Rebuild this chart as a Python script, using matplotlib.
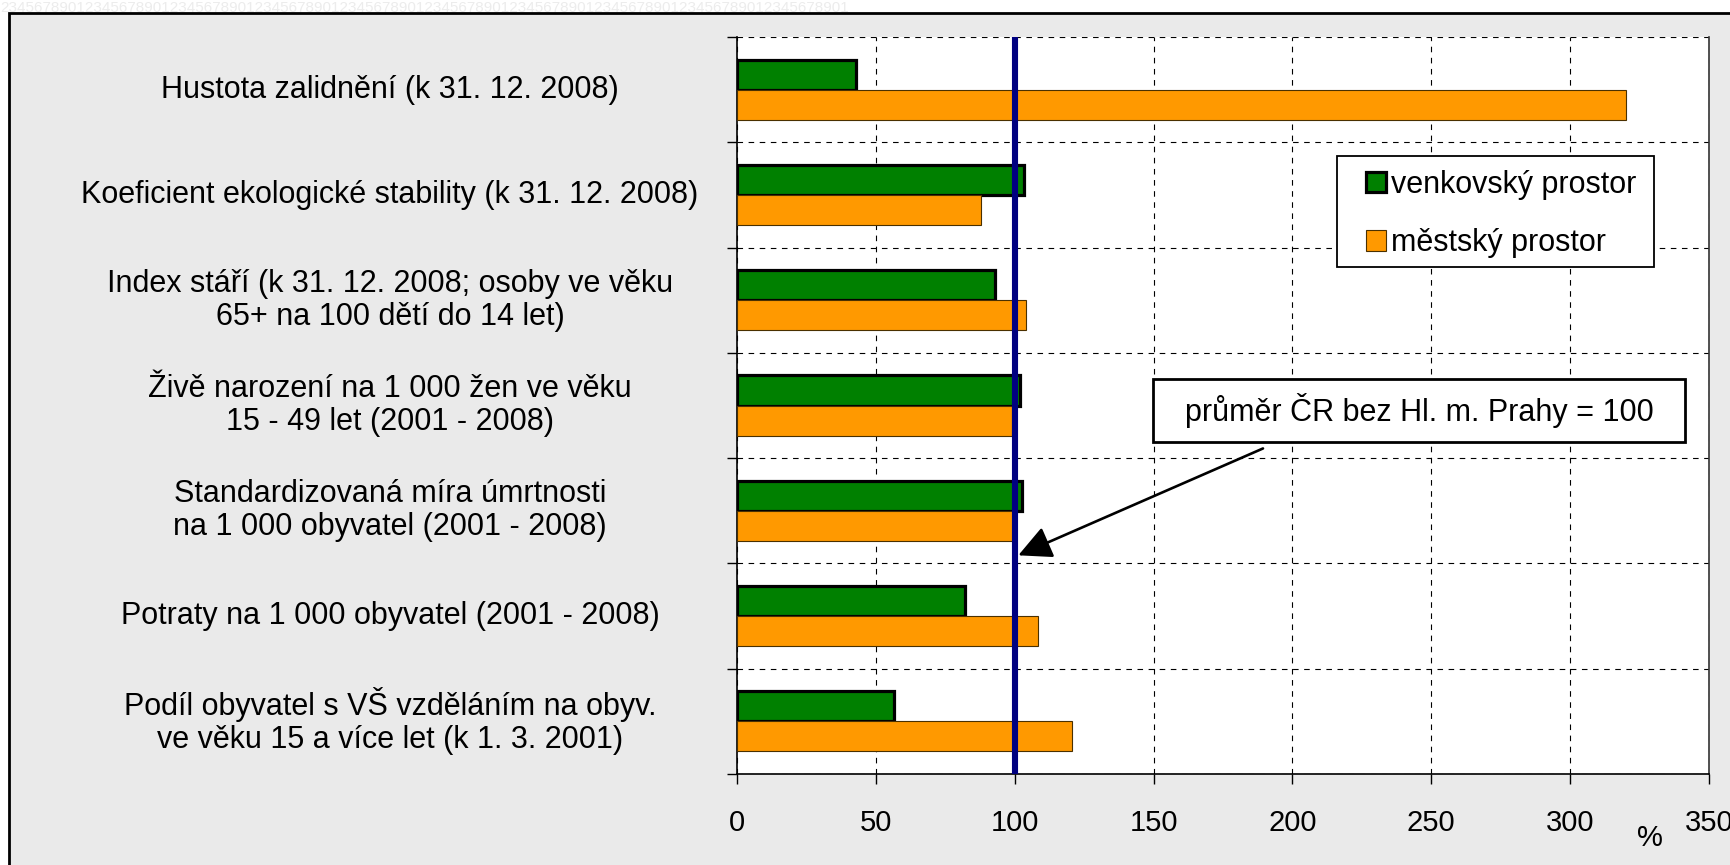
import matplotlib.pyplot as plt
import matplotlib.patches as mpatches
from matplotlib.transforms import blended_transform_factory
import numpy as np

plt.rcParams['font.family'] = ['Liberation Sans', 'DejaVu Sans']

categories = [
    "Hustota zalidnění (k 31. 12. 2008)",
    "Koeficient ekologické stability (k 31. 12. 2008)",
    "Index stáří (k 31. 12. 2008; osoby ve věku\n65+ na 100 dětí do 14 let)",
    "Živě narození na 1 000 žen ve věku\n15 - 49 let (2001 - 2008)",
    "Standardizovaná míra úmrtnosti\nna 1 000 obyvatel (2001 - 2008)",
    "Potraty na 1 000 obyvatel (2001 - 2008)",
    "Podíl obyvatel s VŠ vzděláním na obyv.\nve věku 15 a více let (k 1. 3. 2001)",
]
venkov = [43, 103.5, 93, 102, 102.5, 82, 56.5]
mesto = [320, 88, 104, 99, 99.5, 108.5, 120.5]
series_names = ["venkovský prostor", "městský prostor"]
xticks = [0, 50, 100, 150, 200, 250, 300, 350]
prumer = 100
note = "průměr ČR bez Hl. m. Prahy = 100"

W, H = 1730, 865
FS = 22
fig = plt.figure(figsize=(W / 100, H / 100), dpi=100, facecolor='white')

# faint ruler digits along the top edge + grey framed background
fig.text(0, 1 - 1 / H, "2345678901234567890123456789012345678901234567890123456789012345678901234567890123456789012345678901",
         fontsize=11, color='#ececec', va='top', ha='left')
bg = mpatches.Rectangle((9 / W, -0.05), 1.1, 1 - 13 / H + 0.05, transform=fig.transFigure,
                        facecolor='#eaeaea', edgecolor='black', linewidth=2, zorder=-10)
fig.add_artist(bg)

ax = fig.add_axes([737 / W, 1 - 774 / H, (1709 - 737) / W, (774 - 37) / H])
ax.set_facecolor('white')

y = np.arange(len(categories))
h = 0.285
ax.barh(y - h / 2, venkov, height=h, color='#008000', edgecolor='black', linewidth=2.3,
        label=series_names[0], zorder=3)
ax.barh(y + h / 2, mesto, height=h, color='#ff9900', edgecolor='#4a3000', linewidth=0.8,
        label=series_names[1], zorder=3)

ax.axvline(prumer, color='#000080', linewidth=4.4, zorder=4)

ax.set_xlim(0, 350)
ax.set_ylim(len(categories) - 0.5, -0.5)
ax.set_xticks(xticks)
ax.set_yticks(np.arange(-0.5, len(categories), 1))
ax.set_yticklabels([])
ax.tick_params(axis='both', direction='out', length=7, width=1, color='black')
ax.tick_params(axis='x', pad=18, labelsize=21)

ax.grid(True, color='black', linestyle=(0, (5, 5)), linewidth=0.8, zorder=1)
ax.spines['top'].set_visible(False)
for s in ['left', 'bottom', 'right']:
    ax.spines[s].set_linewidth(1.2)
ax.spines['right'].set_color('#333333')

trans = blended_transform_factory(fig.transFigure, ax.transData)
for i, c in enumerate(categories):
    ax.text(390 / W, i, c, transform=trans, ha='center', va='center',
            multialignment='center', fontsize=FS, linespacing=1.12)

fig.text(1650 / W, 1 - 838 / H, "%", fontsize=21, ha='center', va='center')

# legend: white box plus frameless legend inside it
ax.add_patch(mpatches.Rectangle((1337 / W, 1 - 267 / H), (1654 - 1337) / W, (267 - 156) / H,
                                transform=fig.transFigure, facecolor='white', edgecolor='black',
                                linewidth=1.3, zorder=5, clip_on=False))
leg = ax.legend(loc='center left', bbox_to_anchor=(1366 / W, 1 - 214 / H), bbox_transform=fig.transFigure,
                frameon=False, fontsize=FS, handlelength=0.65, handleheight=0.65, handletextpad=0.18,
                labelspacing=0.93, borderpad=0, borderaxespad=0)
leg.set_zorder(6)

# note box with arrow to the 100 line
ax.add_patch(mpatches.Rectangle((149.8, 2.744), 341.4 - 149.8, 3.351 - 2.744, facecolor='white',
                                edgecolor='black', linewidth=2, zorder=6))
ax.text(245.6, 3.05, note, ha='center', va='center', fontsize=FS, zorder=7)
ax.annotate('', xy=(101.3, 4.423), xytext=(189.4, 3.408),
            arrowprops=dict(arrowstyle='-|>,head_length=1.45,head_width=0.72', color='black', lw=1.9,
                            mutation_scale=14, shrinkA=0, shrinkB=0), zorder=5)

fig.savefig('out.png', dpi=100, facecolor=fig.get_facecolor())
